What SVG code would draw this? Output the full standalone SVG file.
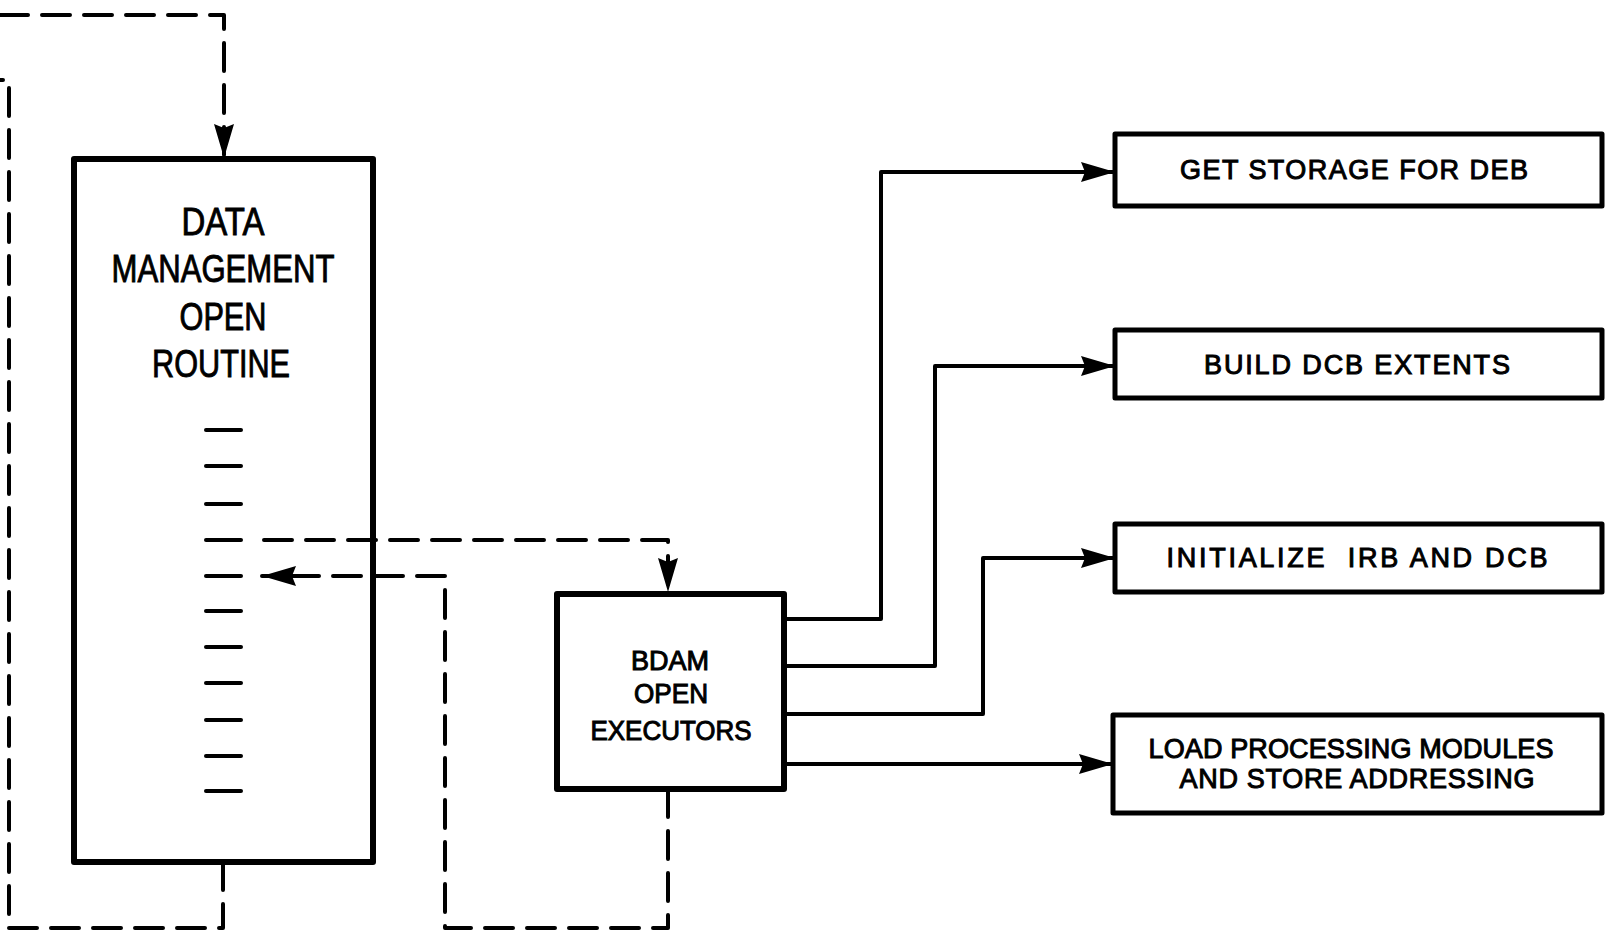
<svg xmlns="http://www.w3.org/2000/svg" width="1606" height="932" viewBox="0 0 1606 932">
<style>
.box{fill:#fff;stroke:#000;stroke-width:6;stroke-linejoin:round}
.sbox{fill:#fff;stroke:#000;stroke-width:5;stroke-linejoin:round}
.line{fill:none;stroke:#000;stroke-width:4;stroke-linejoin:round}
.dash{fill:none;stroke:#000;stroke-width:4;stroke-dasharray:28 14;stroke-linecap:round;stroke-linejoin:round}
.tick{stroke:#000;stroke-width:4;stroke-linecap:round}
.big{font-family:"Liberation Sans",Arial,sans-serif;font-size:38px;text-anchor:middle;fill:#000;stroke:#000;stroke-width:0.9}
.lbl{font-family:"Liberation Sans",Arial,sans-serif;font-size:27px;text-anchor:middle;fill:#000;stroke:#000;stroke-width:1}
</style>
<defs>
<marker id="arr" markerUnits="userSpaceOnUse" markerWidth="36" markerHeight="22" refX="34" refY="10" orient="auto" viewBox="0 0 36 22">
<path d="M0,0 L34,10 L0,20 L4,10 Z" fill="#000"/>
</marker>
</defs>
<g id="connectors">
<path class="dash" d="M0,15 H224 V158" marker-end="url(#arr)"/>
<path class="dash" d="M223,862 V928 H9 V80 H0"/>
<path class="dash" d="M264,540 H668 V592" marker-end="url(#arr)"/>
<path class="dash" d="M668,789 V928 H445 V576 H262" marker-end="url(#arr)"/>
<path class="line" d="M784,619 H881 V172 H1115" marker-end="url(#arr)"/>
<path class="line" d="M784,666 H935 V366 H1115" marker-end="url(#arr)"/>
<path class="line" d="M784,714 H983 V558 H1115" marker-end="url(#arr)"/>
<path class="line" d="M784,764 H1113" marker-end="url(#arr)"/>
</g>
<g id="dm-open">
<rect class="box" x="74" y="159" width="299" height="703" style="fill:none"/>
<text class="big" x="223" y="235" textLength="83" lengthAdjust="spacingAndGlyphs">DATA</text>
<text class="big" x="223" y="282" textLength="223" lengthAdjust="spacingAndGlyphs">MANAGEMENT</text>
<text class="big" x="223" y="330" textLength="87" lengthAdjust="spacingAndGlyphs">OPEN</text>
<text class="big" x="221" y="377" textLength="138" lengthAdjust="spacingAndGlyphs">ROUTINE</text>
<line class="tick" x1="206" y1="430" x2="241" y2="430"/>
<line class="tick" x1="206" y1="466" x2="241" y2="466"/>
<line class="tick" x1="206" y1="504" x2="241" y2="504"/>
<line class="tick" x1="206" y1="540" x2="241" y2="540"/>
<line class="tick" x1="206" y1="576" x2="241" y2="576"/>
<line class="tick" x1="206" y1="611" x2="241" y2="611"/>
<line class="tick" x1="206" y1="647" x2="241" y2="647"/>
<line class="tick" x1="206" y1="683" x2="241" y2="683"/>
<line class="tick" x1="206" y1="720" x2="241" y2="720"/>
<line class="tick" x1="206" y1="756" x2="241" y2="756"/>
<line class="tick" x1="206" y1="791" x2="241" y2="791"/>
</g>
<g id="bdam">
<rect class="box" x="557" y="594" width="227" height="195"/>
<text class="lbl" x="670" y="670" textLength="78" lengthAdjust="spacingAndGlyphs">BDAM</text>
<text class="lbl" x="671" y="703" textLength="74" lengthAdjust="spacingAndGlyphs">OPEN</text>
<text class="lbl" x="671" y="740" textLength="161" lengthAdjust="spacingAndGlyphs">EXECUTORS</text>
</g>
<g id="get-storage">
<rect class="sbox" x="1115" y="134" width="487" height="72"/>
<text class="lbl" x="1354" y="179" textLength="348" lengthAdjust="spacing">GET STORAGE FOR DEB</text>
</g>
<g id="build-dcb">
<rect class="sbox" x="1115" y="330" width="487" height="68"/>
<text class="lbl" x="1357" y="374" textLength="306" lengthAdjust="spacing">BUILD DCB EXTENTS</text>
</g>
<g id="init-irb">
<rect class="sbox" x="1115" y="524" width="487" height="68"/>
<text class="lbl" x="1357" y="567" textLength="381" lengthAdjust="spacing" style="white-space:pre">INITIALIZE  IRB AND DCB</text>
</g>
<g id="load-modules">
<rect class="sbox" x="1113" y="715" width="489" height="98"/>
<text class="lbl" x="1351" y="758" textLength="405" lengthAdjust="spacing">LOAD PROCESSING MODULES</text>
<text class="lbl" x="1357" y="788" textLength="355" lengthAdjust="spacing">AND STORE ADDRESSING</text>
</g>
</svg>
